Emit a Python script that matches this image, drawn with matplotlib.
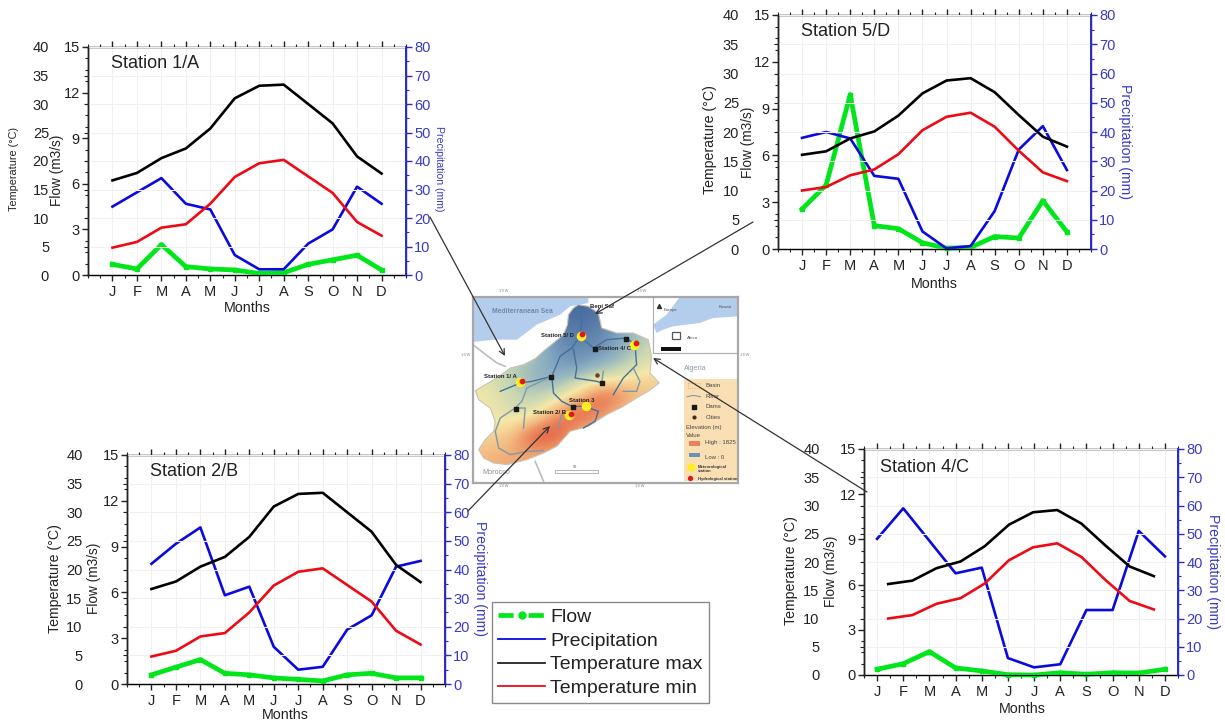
import matplotlib
matplotlib.use("Agg")
import matplotlib.pyplot as plt
import numpy as np
from matplotlib.colors import LinearSegmentedColormap
from matplotlib.lines import Line2D
from matplotlib.patches import Polygon, Rectangle

plt.rcParams['font.family'] = ['Liberation Sans', 'DejaVu Sans']

WIDTH = 1225
HEIGHT = 721

months = ["J", "F", "M", "A", "M", "J", "J", "A", "S", "O", "N", "D"]
month_pos = list(range(1, 13))

# temperatures are shared by stations 1/A and 2/B, and by 5/D and 4/C
tmax_west = [16.6, 17.9, 20.5, 22.2, 25.7, 31.0, 33.2, 33.4, 30.0, 26.6, 20.8, 17.8]
tmin_west = [4.8, 5.8, 8.3, 8.9, 12.5, 17.2, 19.6, 20.2, 17.3, 14.4, 9.3, 6.9]
tmax_east = [16.1, 16.7, 18.9, 20.1, 22.8, 26.6, 28.8, 29.2, 26.8, 22.9, 19.2, 17.5]
tmin_east = [10.0, 10.6, 12.6, 13.6, 16.2, 20.3, 22.6, 23.3, 20.9, 16.8, 13.1, 11.6]

flow_1a = [0.7, 0.4, 2.0, 0.55, 0.4, 0.33, 0.1, 0.15, 0.7, 1.0, 1.3, 0.33]
prec_1a = [24, 29, 34, 25, 23, 7, 2, 2, 11, 16, 31, 25]
flow_2b = [0.6, 1.1, 1.6, 0.7, 0.6, 0.4, 0.3, 0.2, 0.6, 0.7, 0.4, 0.4]
prec_2b = [42, 49, 54.7, 31, 34, 13, 5, 6, 19, 24, 41, 43]
flow_5d = [2.56, 4.1, 9.9, 1.5, 1.3, 0.4, 0.05, 0.1, 0.8, 0.7, 3.1, 1.1]
prec_5d = [38, 40, 37.8, 25, 24, 6, 0.2, 1, 13, 34, 42, 27]
flow_4c = [0.38, 0.75, 1.55, 0.47, 0.27, 0.02, 0.0, 0.15, 0.05, 0.15, 0.13, 0.38]
prec_4c = [48.2, 59, 47.5, 36, 38, 6, 2.7, 3.8, 23, 23, 51, 42]

# map drawing, in pixels of a 3x crop of the map
basin_outline = [(355, 60), (340, 70), (325, 90), (322, 120), (310, 150), (280, 175), (255, 195),
                 (225, 222), (190, 240), (150, 250), (110, 280), (75, 300), (45, 318), (55, 345),
                 (90, 370), (105, 410), (100, 440), (75, 465), (55, 495), (70, 520), (100, 535),
                 (140, 540), (200, 525), (250, 505), (290, 485), (330, 440), (385, 425), (440, 390),
                 (490, 365), (530, 340), (565, 320), (598, 295), (570, 265), (575, 215), (565, 165),
                 (520, 145), (470, 145), (425, 130), (415, 85), (385, 65)]
sea_outline = [(38, 37), (385, 37), (385, 55), (330, 65), (300, 90), (230, 120), (170, 165),
               (100, 165), (38, 172)]
inset_sea = [(660, 37), (835, 37), (835, 95), (760, 100), (720, 115), (640, 125), (610, 135),
             (590, 145), (580, 120), (620, 90)]
elevation = [
    [0.30, 0.25, 0.15, 0.03, 0.00, 0.03, 0.15, 0.30],
    [0.40, 0.35, 0.22, 0.08, 0.04, 0.08, 0.18, 0.32],
    [0.42, 0.38, 0.28, 0.12, 0.08, 0.12, 0.20, 0.38],
    [0.42, 0.30, 0.20, 0.14, 0.18, 0.28, 0.40, 0.55],
    [0.50, 0.36, 0.28, 0.32, 0.62, 0.95, 0.80, 0.62],
    [0.50, 0.42, 0.42, 0.80, 0.98, 0.78, 0.55, 0.55],
    [0.55, 0.60, 0.98, 1.00, 0.62, 0.55, 0.55, 0.55],
    [0.68, 0.72, 0.70, 0.62, 0.55, 0.55, 0.55, 0.55],
]
rivers = [
    [(355, 65), (365, 110), (360, 155), (335, 190), (300, 215), (275, 275), (280, 325), (305, 350),
     (335, 365), (375, 365), (415, 380), (405, 410), (370, 430)],
    [(275, 275), (215, 290), (180, 295), (120, 320)],
    [(275, 275), (200, 310), (185, 350), (165, 370), (120, 400), (105, 440), (115, 490), (150, 510),
     (200, 500), (250, 498)],
    [(360, 155), (400, 190), (440, 165), (500, 160), (525, 180), (530, 240), (490, 280), (460, 330)],
    [(520, 250), (540, 290), (530, 320), (490, 320)],
    [(340, 195), (350, 250), (345, 280), (410, 290), (425, 295)],
    [(430, 260), (425, 295)],
    [(165, 370), (195, 370), (190, 430)],
    [(305, 390), (295, 430)],
]
dam_x = [272, 338, 405, 497, 425, 167]
dam_y = [277, 366, 192, 162, 296, 373]
station_x = [362, 523, 180, 327]
station_y = [153, 180, 293, 392]
station_names = ["Station 5/ D", "Station 4/ C", "Station 1/ A", "Station 2/ B", "Station 3"]
station_name_x = [242, 415, 70, 217, 328]
station_name_y = [153, 190, 277, 383, 346]

legend_labels = ["Flow", "Precipitation", "Temperature max", "Temperature min"]


def pixel_rect(left, top, right, bottom):
    return [left / WIDTH, 1 - bottom / HEIGHT, (right - left) / WIDTH, (bottom - top) / HEIGHT]


def draw_station(box, name, name_xy, flow, prec, tmax, tmin, flow_xlim, label_sizes, label_xs, months_xy, temp_pad):
    left, top, right, bottom = box
    rect = pixel_rect(left, top, right, bottom)

    ax = fig.add_axes(rect)
    ax.set_xlim(flow_xlim)
    ax.set_ylim(0, 15)
    ax.set_xticks(month_pos, months)
    ax.set_xticks(np.arange(flow_xlim[0], flow_xlim[1] + 0.1, 0.5), minor=True)
    ax.set_yticks([0, 3, 6, 9, 12, 15])
    ax.set_yticks(np.arange(0, 15.1, 0.75), minor=True)
    ax.tick_params(axis="both", which="major", labelsize=10.5, length=4, width=1, colors="#222222")
    ax.tick_params(axis="both", which="minor", length=2, width=0.8, color="#222222")
    ax.tick_params(axis="x", which="major", pad=3, top=True)
    ax.tick_params(axis="x", which="minor", top=True)
    ax.tick_params(axis="y", which="major", pad=2)
    ax.grid(True, which="major", axis="x", color="#f0f0f0", lw=0.8)
    ax.set_axisbelow(True)
    ax.plot(month_pos, flow, color="#00e61a", lw=3.4, marker="s", ms=3.5, clip_on=False, zorder=3)

    axp = ax.twinx()
    axp.set_ylim(0, 80)
    axp.set_yticks(range(0, 81, 10))
    axp.set_yticks(range(0, 81, 5), minor=True)
    axp.tick_params(axis="y", which="major", labelsize=10.5, length=4, width=1,
                    color="#2a2acc", labelcolor="#3a3ac8", pad=2)
    axp.tick_params(axis="y", which="minor", length=2, width=0.8, color="#2a2acc")
    axp.plot(month_pos, prec, color="#0a0ae0", lw=1.9, zorder=4)

    # temperature sits on its own axes since 4/C has a wider month spacing there
    axt = fig.add_axes(rect, facecolor="none")
    axt.set_xlim(0, 13)
    axt.set_ylim(0, 40)
    axt.set_xticks([])
    axt.yaxis.tick_left()
    axt.set_yticks(range(0, 41, 5))
    axt.tick_params(axis="y", labelsize=10.5, length=3, width=0.8, color="#222222",
                    labelcolor="#222222", pad=temp_pad)
    axt.grid(True, axis="y", color="#f0f0f0", lw=0.8)
    axt.set_axisbelow(True)
    axt.plot(month_pos, tmax, color="#000000", lw=1.9)
    axt.plot(month_pos, tmin, color="#ee0a14", lw=1.9)

    for a in [ax, axt]:
        for s in a.spines.values():
            s.set_linewidth(1)
            s.set_color("#222222")
    for a in [axp, axt]:
        a.spines["right"].set_color("#2a2acc")
        a.spines["right"].set_linewidth(1.2)
    axt.spines["top"].set_visible(False)
    axt.spines["bottom"].set_visible(False)

    over.text(name_xy[0], name_xy[1], name, fontsize=13, color="#222222", va="center", ha="left")
    over.text(label_xs[0], (top + bottom) / 2 + label_xs[3], "Temperature (°C)", rotation=90, ha="center", va="center",
              fontsize=label_sizes[0], color="#222222")
    over.text(label_xs[1], (top + bottom) / 2 + label_xs[4], "Flow (m3/s)", rotation=90, ha="center", va="center",
              fontsize=label_sizes[1], color="#222222")
    over.text(label_xs[2], (top + bottom) / 2 + label_xs[5], "Precipitation (mm)", rotation=270, ha="center", va="center",
              fontsize=label_sizes[2], color="#3a3ac8")
    over.text(months_xy[0], months_xy[1], "Months", ha="center", va="center", fontsize=10.3, color="#222222")


def draw_map():
    m = fig.add_axes(pixel_rect(473, 297, 738, 483))
    m.set_xlim(38, 835)
    m.set_ylim(595, 37)
    m.set_xticks([])
    m.set_yticks([])
    for s in m.spines.values():
        s.set_color("#a8a8a8")
        s.set_linewidth(1.6)

    m.add_patch(Polygon(sea_outline, color="#b4cdec", lw=0))
    m.plot([38, 70, 110, 135], [180, 205, 235, 245], color="#bdbdbd", lw=1.2)
    m.plot([225, 250], [530, 590], color="#bdbdbd", lw=1.2)
    m.text(96, 80, "Mediterranean Sea", fontsize=4.9, color="#6c88ad", va="center", weight="bold")
    m.text(65, 565, "Morocco", fontsize=5.2, color="#8f8f8f", va="center")
    m.text(672, 253, "Algeria", fontsize=5.2, color="#8f9cb0", va="center")

    # basin filled with the elevation colours
    cmap = LinearSegmentedColormap.from_list(
        "elev", ["#46699f", "#86aac2", "#c6d6b4", "#f5e8a8", "#f3ba80", "#e97c56", "#d94a35"])
    im = m.imshow(elevation, extent=(40, 600, 545, 55), cmap=cmap, vmin=0, vmax=1,
                  interpolation="bicubic", aspect="auto")
    basin = Polygon(basin_outline, closed=True, fc="none", ec="#c9c3b5", lw=0.8, transform=m.transData)
    m.add_patch(basin)
    im.set_clip_path(basin)
    m.set_xlim(38, 835)
    m.set_ylim(595, 37)

    for i, river in enumerate(rivers):
        xs = [p[0] for p in river]
        ys = [p[1] for p in river]
        col = "#45709e" if i in (0, 1, 3, 5) else "#7f9aa6"
        m.plot(xs, ys, color=col, lw=1.0, solid_joinstyle="round")

    m.scatter(dam_x, dam_y, s=7, marker="s", color="#1a1a1a", zorder=5)
    m.scatter([412], [270], s=5, color="#7a3a20", zorder=5)
    m.scatter(station_x + [377], station_y + [365], s=34, color="#ffee22", zorder=6)
    m.scatter([p + 5 for p in station_x], [p - 4 for p in station_y], s=10, color="#e01818", zorder=7)
    for name, x, y in zip(station_names, station_name_x, station_name_y):
        m.text(x, y, name, fontsize=4.3, weight="bold", color="#222222", va="center", zorder=8)
    m.text(390, 65, "Beni Saf", fontsize=4.3, weight="bold", color="#222222", va="center", zorder=8)
    m.add_patch(Rectangle((285, 555), 130, 10, fc="white", ec="#999999", lw=0.5))
    m.text(345, 546, "50", fontsize=2.8, color="#555555", ha="center", va="center")

    # small locator inset
    m.plot([580, 580, 835], [37, 205, 205], color="#b0b0b0", lw=0.9)
    m.add_patch(Polygon(inset_sea, color="#b4cdec", lw=0))
    m.text(610, 75, "Europe", fontsize=3.2, color="#555555", va="center")
    m.text(778, 66, "Kuwait", fontsize=3.2, color="#555555", va="center")
    m.text(683, 160, "Africa", fontsize=3.2, color="#555555", va="center")
    m.add_patch(Rectangle((638, 142), 24, 22, fc="white", ec="#555555", lw=0.9))
    m.add_patch(Rectangle((603, 188), 62, 12, fc="#111111", ec="none"))
    m.scatter([597], [65], s=8, marker="^", color="#333333")

    # map key
    m.add_patch(Rectangle((672, 282), 163, 308, fc="#fbdfb4", ec="none", zorder=2))
    key_text = [("Basin", 737, 303), ("River", 737, 336), ("Dams", 737, 367), ("Cities", 737, 398),
                ("Elevation (m)", 680, 427), ("Value", 680, 453), ("High : 1825", 737, 474), ("Low : 0", 737, 518)]
    for txt, x, y in key_text:
        m.text(x, y, txt, fontsize=4.3, color="#444444", va="center", zorder=3)
    m.text(714, 554, "Meteorological\nstation", fontsize=3.0, weight="bold", color="#333333", va="center", linespacing=1.0, zorder=3)
    m.text(714, 582, "Hydrological station", fontsize=3.0, weight="bold", color="#333333", va="center", zorder=3)
    m.add_patch(Rectangle((686, 296), 34, 14, fc="none", ec="#d9a070", lw=0.6, ls=":", zorder=3))
    m.plot([682, 700, 722], [336, 332, 336], color="#7f9aa6", lw=0.8, zorder=3)
    m.scatter([704], [367], s=7, marker="s", color="#1a1a1a", zorder=3)
    m.scatter([704], [398], s=4, color="#4a2a1a", zorder=3)
    m.add_patch(Rectangle((688, 470), 34, 14, fc="#e8825c", ec="none", zorder=3))
    m.add_patch(Rectangle((688, 504), 34, 14, fc="#6b92b8", ec="none", zorder=3))
    m.scatter([695], [548], s=24, color="#ffee22", zorder=3)
    m.scatter([690], [579], s=8, color="#e01818", zorder=3)

    # graticule labels outside the frame
    for x, y in [(130, 20), (545, 20), (130, 605), (540, 605), (15, 212), (855, 212)]:
        m.text(x, y, "1°0'W", fontsize=2.8, color="#8a8a8a", ha="center", va="center", clip_on=False)


fig = plt.figure(figsize=(WIDTH / 100, HEIGHT / 100), dpi=100, facecolor="white")

# full page layer for labels and connector arrows, in image pixels
over = fig.add_axes([0, 0, 1, 1], facecolor="none", zorder=10)
over.set_xlim(0, WIDTH)
over.set_ylim(HEIGHT, 0)
over.axis("off")

draw_station((88, 47, 406, 275), "Station 1/A", (111, 64), flow_1a, prec_1a, tmax_west, tmin_west, (0, 13),
             (7.8, 9.8, 7.6), (14, 57, 439, 8, 9, 8), (247, 308), 25)
draw_station((127, 455, 445, 684), "Station 2/B", (150, 472), flow_2b, prec_2b, tmax_west, tmin_west, (0, 13),
             (10.2, 9.8, 10.2), (55, 94, 480, 9, 9, 9), (285, 715), 29)
draw_station((778, 15, 1091, 249), "Station 5/D", (801, 31), flow_5d, prec_5d, tmax_east, tmin_east, (0, 13),
             (10.2, 9.8, 10.2), (710, 748, 1125, 8, 10, 9), (934, 284), 25)
draw_station((864, 449, 1178, 675), "Station 4/C", (880, 468), flow_4c, prec_4c, tmax_east, tmin_east, (0.5, 12.5),
             (10.2, 9.8, 10.2), (791, 831, 1213, 9, 9, 9), (1022, 709), 29)

draw_map()

for start, end in [((430, 217), (505, 356)), ((753, 222), (595, 314)),
                   ((468, 511), (550, 426)), ((867, 492), (653, 358))]:
    over.annotate("", xy=end, xytext=start,
                  arrowprops=dict(arrowstyle="->", color="#333333", lw=0.9, shrinkA=0, shrinkB=0))

handles = [
    Line2D([], [], color="#00e61a", lw=3.4, ls=(0, (3.2, 3.2)), marker="o", ms=5),
    Line2D([], [], color="#0a0ae0", lw=1.3),
    Line2D([], [], color="#222222", lw=1.3),
    Line2D([], [], color="#ee0a14", lw=1.3),
]
leg = fig.legend(handles, legend_labels, loc="upper left", numpoints=1,
                 bbox_to_anchor=(492 / WIDTH, 1 - 602 / HEIGHT), borderaxespad=0, frameon=True,
                 fancybox=False, edgecolor="#8a8a8a", framealpha=1, fontsize=14, handlelength=2.4,
                 handletextpad=0.25, labelspacing=0.31, borderpad=0.33, labelcolor="#222222")
leg.get_frame().set_linewidth(1)
leg.set_zorder(20)

fig.savefig("out.png", dpi=100)
